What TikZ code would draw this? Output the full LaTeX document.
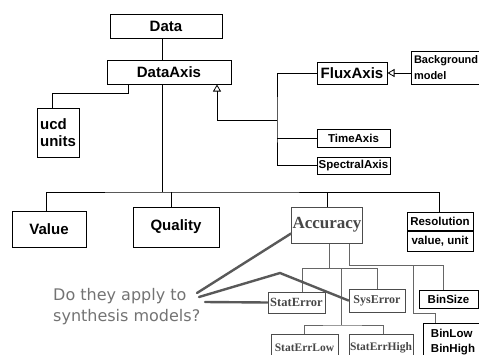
\documentclass[tikz,border=0pt]{standalone}
\usepackage{fontspec}
\setmainfont{Liberation Serif}
\setsansfont{Liberation Sans}
\newfontfamily\notefont{DejaVu Sans}
\usetikzlibrary{arrows.meta}

\tikzset{
  box/.style={draw, line width=1pt, inner sep=1pt},
  large/.style={box, font=\sffamily\bfseries\fontsize{15}{17.5}\selectfont},
  small/.style={box, font=\sffamily\bfseries\fontsize{11.5}{15}\selectfont},
  errbox/.style={draw=black!70, line width=1pt, inner sep=1pt, text=black!72},
  link/.style={line width=0.8pt},
  errlink/.style={draw=black!60, line width=0.8pt},
  inherit/.style={link, -{Triangle[open, length=7pt, width=8pt]}},
  remark/.style={draw=black!65, line width=2.4pt, line cap=round}
}

\begin{document}
\begin{tikzpicture}[x=1pt, y=-1pt]
    \useasboundingbox (0,0) rectangle (479,354);

    % top of the model
    \node[large, minimum width=112pt, minimum height=24pt] (data) at (166,26) {Data};
    \node[large, minimum width=124pt, minimum height=24pt] (dataaxis) at (169,72) {DataAxis};
    \node[large, minimum width=42pt, minimum height=49pt, align=left,
          font=\sffamily\bfseries\fontsize{15}{17.5}\selectfont] (ucd) at (58,132.5) {ucd\\units};
    \coordinate (trunk) at (162,192);
    \draw[link] (trunk |- data.south) -- (trunk |- dataaxis.north);
    \draw[link] (trunk |- dataaxis.south) -- (trunk);
    \draw[link] ([xshift=-41pt]dataaxis.south) -- ++(0,9) -| ([xshift=-6pt]ucd.north);

    % axes
    \node[large, minimum width=70pt, minimum height=22pt] (fluxaxis) at (352,73) {FluxAxis};
    \node[small, minimum width=73pt, minimum height=18pt] (timeaxis) at (353.5,138) {TimeAxis};
    \node[small, minimum width=73pt, minimum height=17pt] (spectralaxis) at (353.5,165.5) {SpectralAxis};
    \node[box, anchor=north west, text width=66pt, inner xsep=2.5pt, minimum height=33pt, align=left,
          font=\sffamily\bfseries\fontsize{11}{16}\selectfont] (background) at (411,51) {Background\\model};
    \coordinate (axisjoin) at (277,120);
    \draw[link] (fluxaxis.west) -| (axisjoin) |- (spectralaxis.west);
    \draw[link] (timeaxis.west) -- (timeaxis.west -| axisjoin);
    \draw[inherit] (axisjoin) -| ([xshift=48pt]dataaxis.south);
    \draw[inherit] (fluxaxis.east -| background.west) -- (fluxaxis.east);

    % second row
    \node[large, minimum width=74pt, minimum height=36pt] (value) at (49,229) {Value};
    \node[large, minimum width=86pt, minimum height=40pt] (quality) at (176,227) {Quality};
    \node[errbox, minimum width=70pt, minimum height=36pt,
          font=\rmfamily\bfseries\fontsize{17}{19}\selectfont] (accuracy) at (327,225) {Accuracy};
    \node[small, anchor=north, minimum width=66pt, minimum height=18pt] (resolution) at (440,212) {Resolution};
    \node[small, anchor=north, minimum width=66pt, minimum height=20pt] (resvalue) at (resolution.south) {value, unit};
    \draw[link] ([xshift=-3pt]value.north) |- (trunk) -| ([xshift=-1pt]resolution.north);
    \draw[link] ([xshift=-5pt]quality.north) -- ([xshift=-5pt]quality.north |- trunk);
    \draw[link] (accuracy.north) -- (accuracy.north |- trunk);

    % errors and bins
    \node[errbox, minimum width=57pt, minimum height=21pt,
          font=\rmfamily\bfseries\fontsize{12.5}{14}\selectfont] (staterror) at (296.5,302.5) {StatError};
    \node[errbox, minimum width=56pt, minimum height=23pt,
          font=\rmfamily\bfseries\fontsize{12}{14}\selectfont] (syserror) at (377,300.5) {SysError};
    \node[errbox, anchor=north, minimum width=67pt, minimum height=26pt,
          font=\rmfamily\bfseries\fontsize{11.5}{13}\selectfont] (staterrlow) at (304.5,334) {StatErrLow};
    \node[errbox, anchor=north, minimum width=64pt, minimum height=26pt,
          font=\rmfamily\bfseries\fontsize{11.5}{13}\selectfont] (staterrhigh) at (381,334) {StatErrHigh};
    \node[small, minimum width=59pt, minimum height=18pt] (binsize) at (448.5,299) {BinSize};
    \node[small, anchor=north west, minimum width=59pt, minimum height=37pt, align=left] (binlow) at (423,323) {BinLow\\BinHigh};
    \coordinate (errjoin) at (329,268);
    \coordinate (lowjoin) at (341,325);
    \coordinate (binjoin) at (349,265);
    \coordinate (binbend) at (413,313);
    \draw[errlink] ([xshift=2pt]accuracy.south) -- (errjoin);
    \draw[errlink] ([xshift=5.5pt]staterror.north) |- (syserror.north |- errjoin) -- (syserror.north);
    \draw[errlink] (lowjoin |- errjoin) -- (lowjoin);
    \draw[errlink] (staterrlow.north) |- (lowjoin) -| ([xshift=2pt]staterrhigh.north);
    \draw[errlink] ([xshift=22pt]accuracy.south) -- (binjoin) -| ([xshift=-5.5pt]binsize.north);
    \draw[errlink] (binbend |- binjoin) -- (binbend) -| ([xshift=-17.5pt]binlow.north);

    % the question
    \node[anchor=north west, inner sep=0pt, align=left, text=black!55,
          font=\notefont\fontsize{16}{21}\selectfont] (question) at (53,288.5) {Do they apply to\\synthesis models?};
    \coordinate (q1) at (197,293);
    \coordinate (q2) at (199,297);
    \coordinate (q3) at (205,302);
    \coordinate (qbend) at (280,273);
    \draw[remark] (q1) -- ([yshift=10pt]accuracy.south west);
    \draw[remark] (q2) -- (qbend) -- (syserror.west);
    \draw[remark] (q3) -- (staterror.west);
\end{tikzpicture}
\end{document}
